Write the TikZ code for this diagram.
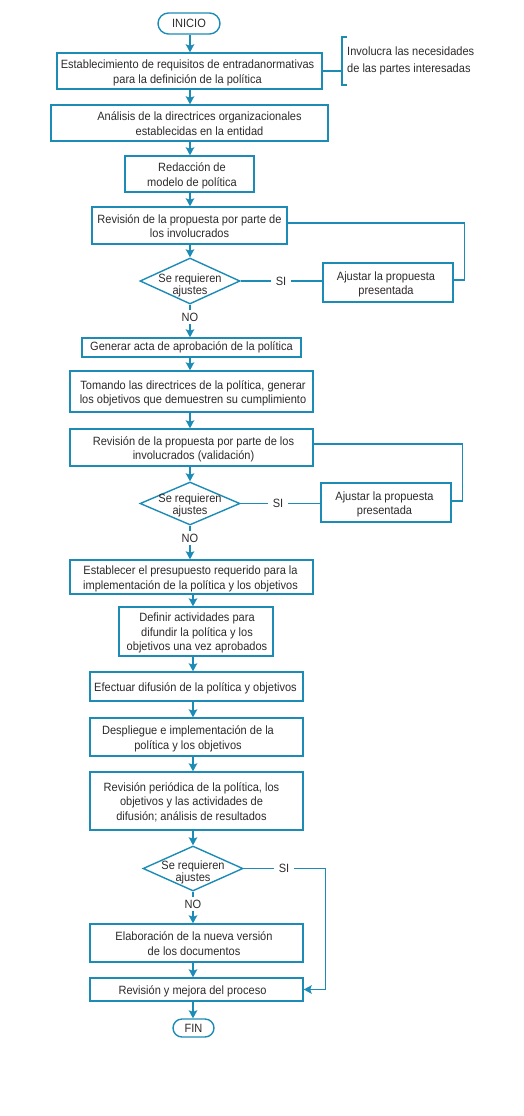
\documentclass[tikz,border=0pt]{standalone}
\usepackage{fontspec}
\setmainfont{Liberation Sans}[FakeStretch=0.92]
\usetikzlibrary{shapes.geometric,arrows.meta,calc}
\definecolor{ln}{RGB}{28,139,182}
\definecolor{txt}{RGB}{45,42,42}
\newcommand\sx[2]{\raisebox{-2pt}[\height][\depth]{\ifdim#1>0pt\kern#1\kern#1\fi\begin{tabular}{@{}c@{}}#2\end{tabular}\ifdim#1<0pt\kern-#1\kern-#1\fi}}
\begin{document}
\begin{tikzpicture}[x=1pt,y=-1pt,text=txt,
  font=\fontsize{12}{14.5}\selectfont,
  box/.style={draw=ln,line width=1.4pt,inner sep=0pt,align=center,rectangle},
  term/.style={draw=ln,line width=1.4pt,inner sep=0pt,align=center,rectangle},
  dia/.style={draw=ln,line width=1.4pt,diamond,inner sep=0pt},
  dtext/.style={align=center,inner sep=0pt,font=\fontsize{12}{12}\selectfont},
  lbl/.style={inner xsep=5pt,inner ysep=3pt},
  ln/.style={draw=ln,line width=1.4pt},
  arr/.style={draw=ln,line width=1.4pt,-{Stealth[length=8pt,width=8.5pt,inset=1.5pt]}}]
\useasboundingbox (0,0) rectangle (524,1116);
\coordinate (axA) at (190,0);
\coordinate (axB) at (193,0);
% nodes
\node[term,rounded corners=10.5pt,minimum width=62pt,minimum height=21pt] (ini) at (189,23.5) {INICIO};
\node[box,minimum width=265pt,minimum height=36pt] (b1) at (189.5,71) {\sx{-2pt}{Establecimiento de requisitos de entradanormativas\\para la definición de la política}};
\node[align=left,anchor=west,inner sep=0pt,font=\fontsize{12}{17}\selectfont] (note) at (347,61) {Involucra las necesidades\\de las partes interesadas};
\coordinate (brT) at (342,37);
\coordinate (brB) at (342,85);
\node[box,minimum width=277pt,minimum height=36pt] (b2) at (189.5,123) {\sx{10pt}{Análisis de la directrices organizacionales\\establecidas en la entidad}};
\node[box,minimum width=129pt,minimum height=36pt] (b3) at (189.5,174) {\sx{2.5pt}{Redacción de\\modelo de política}};
\node[box,minimum width=195pt,minimum height=37pt] (b4) at (189.5,225.5) {\sx{0pt}{Revisión de la propuesta por parte de\\los involucrados}};
\node[dia,minimum width=100pt,minimum height=46pt] (d1) at (190,281) {};
\node[dtext] (q1) at ([yshift=-4pt]d1.center) {Se requieren\\ajustes};
\node[lbl] (si1) at (281,281) {SI};
\node[box,minimum width=130pt,minimum height=39pt] (aj1) at (388,282.5) {\sx{-2pt}{Ajustar la propuesta\\presentada}};
\node[lbl] (no1) at (190,317) {NO};
\node[box,minimum width=219pt,minimum height=19pt] (b5) at (191.5,347.5) {Generar acta de aprobación de la política};
\node[box,minimum width=243pt,minimum height=41pt] (b6) at (191.5,391.5) {\sx{1.5pt}{Tomando las directrices de la política, generar\\los objetivos que demuestren su cumplimiento}};
\node[box,minimum width=243pt,minimum height=37pt] (b7) at (191.5,447.5) {\sx{2pt}{Revisión de la propuesta por parte de los\\involucrados (validación)}};
\node[dia,minimum width=100pt,minimum height=43pt] (d2) at (190,503.5) {};
\node[dtext] (q2) at ([yshift=-2pt]d2.center) {Se requieren\\ajustes};
\node[lbl] (si2) at (278,503.5) {SI};
\node[box,minimum width=130pt,minimum height=39pt] (aj2) at (386,502.5) {\sx{-1.5pt}{Ajustar la propuesta\\presentada}};
\node[lbl] (no2) at (190,538) {NO};
\node[box,minimum width=243pt,minimum height=34pt] (b8) at (191.5,577) {\sx{-1pt}{Establecer el presupuesto requerido para la\\implementación de la política y los objetivos}};
\node[box,minimum width=154pt,minimum height=49pt] (b9) at (196,631.5) {\sx{1pt}{Definir actividades para\\difundir la política y los\\objetivos una vez aprobados}};
\node[box,minimum width=213pt,minimum height=29pt] (b10) at (196.5,686.5) {\sx{-1pt}{Efectuar difusión de la política y objetivos}};
\node[box,minimum width=213pt,minimum height=38pt] (b11) at (196.5,737) {\sx{-8.5pt}{Despliegue e implementación de la\\política y los objetivos}};
\node[box,minimum width=213pt,minimum height=58pt] (b12) at (196.5,801) {\sx{-5pt}{Revisión periódica de la política, los\\objetivos y las actividades de\\difusión; análisis de resultados}};
\node[dia,minimum width=100pt,minimum height=45pt] (d3) at (193,868.5) {};
\node[dtext] (q3) at ([yshift=-4pt]d3.center) {Se requieren\\ajustes};
\node[lbl] (si3) at (284,868.5) {SI};
\node[lbl] (no3) at (193,904) {NO};
\node[box,minimum width=213pt,minimum height=38pt] (b13) at (196.5,943) {\sx{-2.5pt}{Elaboración de la nueva versión\\de los documentos}};
\node[box,minimum width=213pt,minimum height=23pt] (b14) at (196.5,989.5) {\sx{-4pt}{Revisión y mejora del proceso}};
\node[term,rounded corners=9pt,minimum width=41pt,minimum height=18pt] (fin) at (193.5,1028) {FIN};
% bracket
\draw[ln] (b1.east) -- (b1.east -| brT);
\draw[ln] ([xshift=5pt]brT) -- (brT) -- (brB) -- ([xshift=5pt]brB);
% main flow
\draw[arr] (ini.south -| axA) -- (b1.north -| axA);
\draw[arr] (b1.south -| axA) -- (b2.north -| axA);
\draw[arr] (b2.south -| axA) -- (b3.north -| axA);
\draw[arr] (b3.south -| axA) -- (b4.north -| axA);
\draw[arr] (b4.south -| axA) -- (d1.north);
\draw[ln] (d1.south) -- (no1.north);
\draw[arr] (no1.south) -- (b5.north -| axA);
\draw[arr] (b5.south -| axA) -- (b6.north -| axA);
\draw[arr] (b6.south -| axA) -- (b7.north -| axA);
\draw[arr] (b7.south -| axA) -- (d2.north);
\draw[ln] (d2.south) -- (no2.north);
\draw[arr] (no2.south) -- (b8.north -| axA);
\draw[arr] (b8.south -| axB) -- (b9.north -| axB);
\draw[arr] (b9.south -| axB) -- (b10.north -| axB);
\draw[arr] (b10.south -| axB) -- (b11.north -| axB);
\draw[arr] (b11.south -| axB) -- (b12.north -| axB);
\draw[arr] (b12.south -| axB) -- (d3.north);
\draw[ln] (d3.south) -- (no3.north);
\draw[arr] (no3.south) -- (b13.north -| axB);
\draw[arr] (b13.south -| axB) -- (b14.north -| axB);
\draw[arr] (b14.south -| axB) -- (fin.north -| axB);
% loops
\draw[ln] (d1.east) -- (d1.east -| si1.west);
\draw[ln] (si1.east) -- (si1.east -| aj1.west);
\draw[ln] ([yshift=2.5pt]b4.east) -- ++(177,0) |- ([yshift=2.5pt]aj1.east);
\draw[ln] (d2.east) -- (d2.east -| si2.west);
\draw[ln] (si2.east) -- (si2.east -| aj2.west);
\draw[ln] ([yshift=3.5pt]b7.east) -- ++(149,0) |- ([yshift=1.5pt]aj2.east);
\draw[ln] (d3.east) -- (d3.east -| si3.west);
\draw[arr] (si3.east) -- ++(31,0) |- (b14.east);
\end{tikzpicture}
\end{document}
